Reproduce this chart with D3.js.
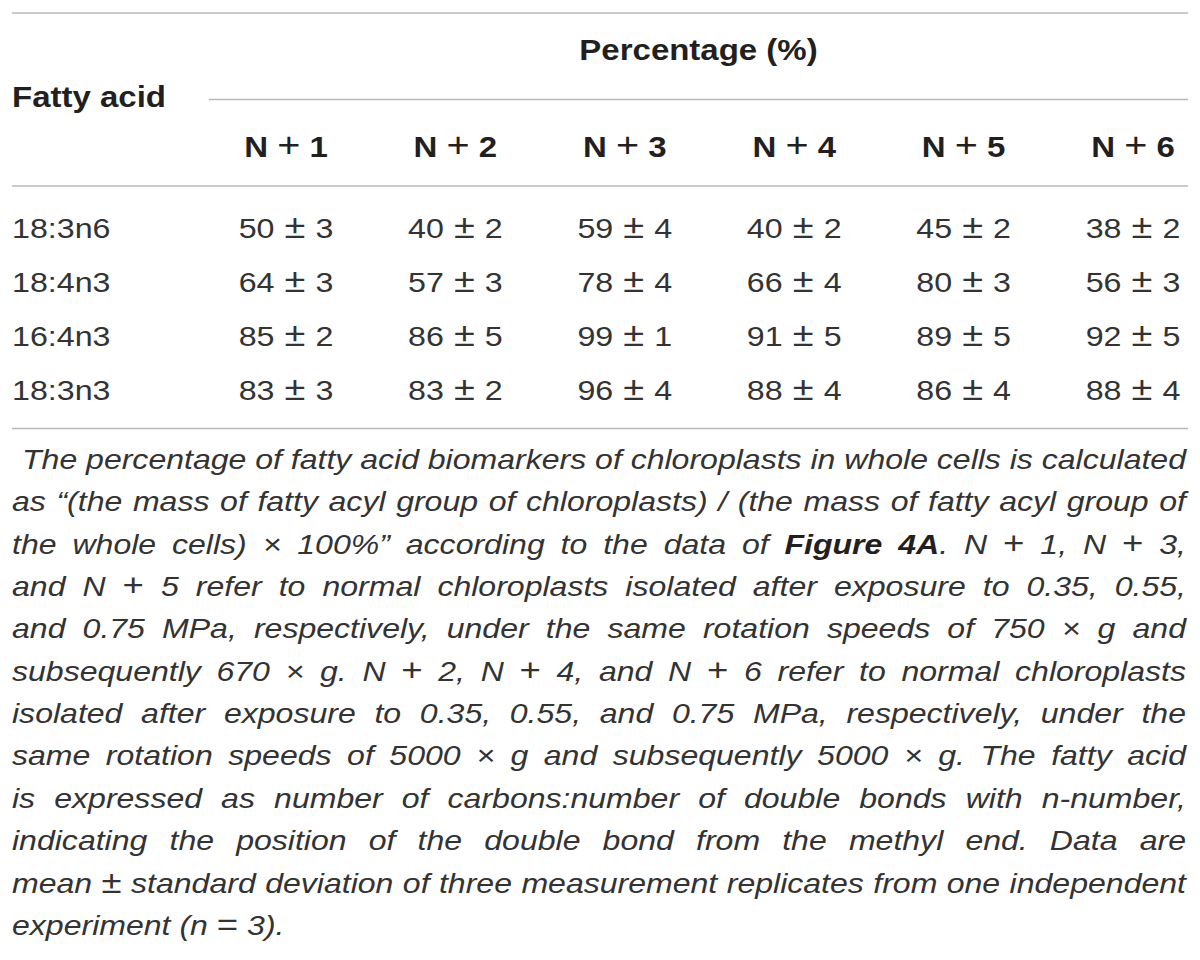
<!DOCTYPE html>
<html>
<head>
<meta charset="utf-8">
<script src="https://cdn.jsdelivr.net/npm/d3@7"></script>
<style>
    body { margin: 0; background: #fff; }
    text { font-family: "Liberation Sans", Arial, Helvetica, sans-serif; fill: #231f20; }
    .light { fill: #333; }
</style>
</head>
<body>
<svg id="chart"></svg>
<script>
// Table data
const fattyAcids = ["18:3n6", "18:4n3", "16:4n3", "18:3n3"];
const groups = ["N + 1", "N + 2", "N + 3", "N + 4", "N + 5", "N + 6"];
const means = [
    [50, 40, 59, 40, 45, 38],
    [64, 57, 78, 66, 80, 56],
    [85, 86, 99, 91, 89, 92],
    [83, 83, 96, 88, 86, 88]
];
const sds = [
    [3, 2, 4, 2, 2, 2],
    [3, 3, 4, 4, 3, 3],
    [2, 5, 1, 5, 5, 5],
    [3, 2, 4, 4, 4, 4]
];
const groupTitle = "Percentage (%)";
const rowTitle = "Fatty acid";
// caption, one entry per printed line; **..** = bold
const captionLines = [
    "The percentage of fatty acid biomarkers of chloroplasts in whole cells is calculated",
    "as \u201c(the mass of fatty acyl group of chloroplasts) / (the mass of fatty acyl group of",
    "the whole cells) \u00d7 100%\u201d according to the data of **Figure** **4A**. N + 1, N + 3,",
    "and N + 5 refer to normal chloroplasts isolated after exposure to 0.35, 0.55,",
    "and 0.75 MPa, respectively, under the same rotation speeds of 750 \u00d7 g and",
    "subsequently 670 \u00d7 g. N + 2, N + 4, and N + 6 refer to normal chloroplasts",
    "isolated after exposure to 0.35, 0.55, and 0.75 MPa, respectively, under the",
    "same rotation speeds of 5000 \u00d7 g and subsequently 5000 \u00d7 g. The fatty acid",
    "is expressed as number of carbons:number of double bonds with n-number,",
    "indicating the position of the double bond from the methyl end. Data are",
    "mean \u00b1 standard deviation of three measurement replicates from one independent",
    "experiment (n = 3)."
];

const width = 1200;
const height = 960;
const left = 12;
const right = 1188;

const svg = d3.select("#chart")
    .attr("width", width)
    .attr("height", height);

// the source type is wider than Liberation Sans, so stretch it a bit
const sxRegular = 1.15;
const sxBold = 1.1;
const sxCaption = 1.145;
const mathSigns = ["+", "\u00b1", "="];

const xScale = d3.scalePoint()
    .domain(groups)
    .range([286, 1133]);

const yScale = d3.scalePoint()
    .domain(fattyAcids)
    .range([238, 400]);

function label(x, y, sx, anchor) {
    return svg.append("g")
        .attr("transform", `translate(${x},${y}) scale(${sx},1)`)
        .append("text")
        .attr("text-anchor", anchor);
}

// Rules
const rule = (x1, x2, y) => svg.append("line")
    .attr("x1", x1).attr("x2", x2)
    .attr("y1", y).attr("y2", y)
    .attr("stroke", "#b8b8b8")
    .attr("stroke-width", 1.5);

rule(left, right, 13);
rule(209, right, 99.5);
rule(left, right, 186);
rule(left, right, 428.5);

// Header
label((209 + right) / 2, 60, sxBold, "middle")
    .style("font-size", "30px")
    .style("font-weight", "bold")
    .text(groupTitle);

label(left, 107, sxBold, "start")
    .style("font-size", "30px")
    .style("font-weight", "bold")
    .text(rowTitle);

groups.forEach(g => {
    const t = label(xScale(g), 157, sxBold, "middle")
        .style("font-size", "30px")
        .style("font-weight", "bold");
    const p = g.split(" + ");
    t.append("tspan").text(p[0] + " ");
    t.append("tspan")
        .style("font-weight", "normal")
        .style("font-size", "36px")
        .text("+");
    t.append("tspan").text(" " + p[1]);
});

// Body rows
fattyAcids.forEach((fa, i) => {
    label(left, yScale(fa), sxRegular, "start")
        .attr("class", "light")
        .style("font-size", "28px")
        .text(fa);

    groups.forEach((g, j) => {
        const t = label(xScale(g), yScale(fa), sxRegular, "middle")
            .attr("class", "light")
            .style("font-size", "28px")
            .style("word-spacing", "1px");
        t.append("tspan").text(`${means[i][j]} `);
        t.append("tspan").style("font-size", "33px").text("\u00b1");
        t.append("tspan").text(` ${sds[i][j]}`);
    });
});

// Caption, justified word by word
const capTop = 469;
const capStep = 42.35;
const capRight = 1186;

function addWord(g, word) {
    const t = g.append("text")
        .attr("class", "light")
        .style("font-size", "28px")
        .style("font-style", "italic");
    word.split(/(\*\*[^*]+\*\*|[+\u00b1=])/).filter(s => s.length).forEach(s => {
        const b = s.startsWith("**");
        const m = mathSigns.includes(s);
        t.append("tspan")
            .style("font-weight", b ? "bold" : "normal")
            .style("font-style", m ? "normal" : null)
            .style("font-size", m ? "32px" : null)
            .style("fill", b ? "#231f20" : null)
            .text(b ? s.slice(2, -2) : s);
    });
    return t;
}

captionLines.forEach((line, i) => {
    const x0 = i === 0 ? 22 : left;
    const g = svg.append("g")
        .attr("transform", `translate(${x0},${capTop + i * capStep}) scale(${sxCaption},1)`);
    const last = i === captionLines.length - 1;

    if (last) {
        addWord(g, line);
        return;
    }
    const words = line.split(" ");
    const nodes = words.map(w => addWord(g, w));
    const widths = nodes.map(n => n.node().getComputedTextLength());
    const avail = (capRight - x0) / sxCaption;
    const gap = (avail - d3.sum(widths)) / (words.length - 1);
    let x = 0;
    nodes.forEach((n, k) => {
        n.attr("x", x);
        x += widths[k] + gap;
    });
});
</script>
</body>
</html>
